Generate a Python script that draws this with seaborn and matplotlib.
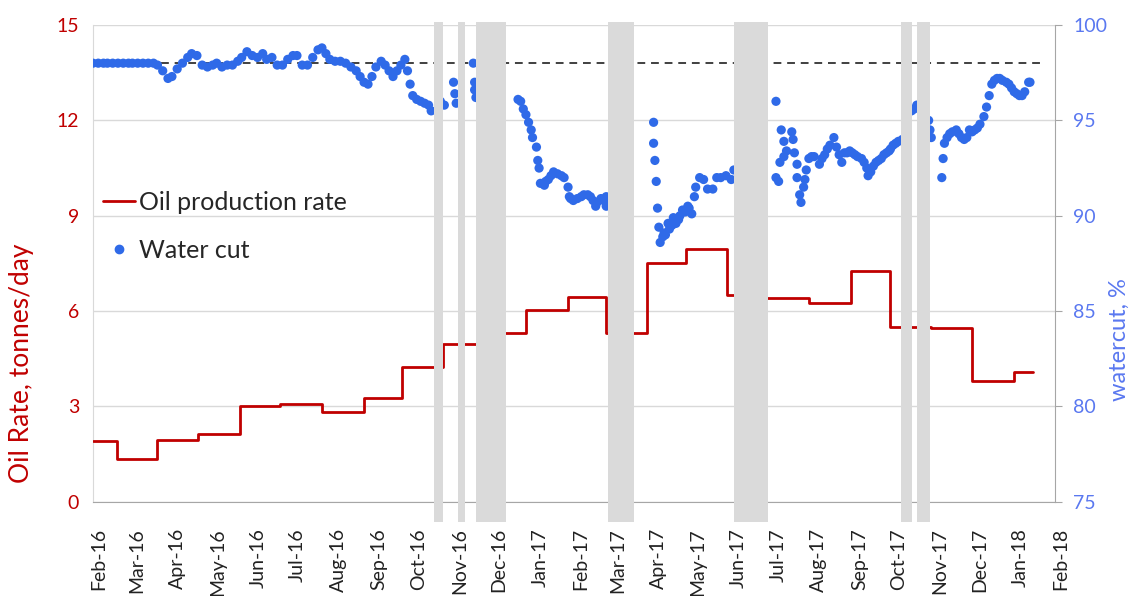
import pandas as pd
import numpy as np
import matplotlib
matplotlib.use("Agg")
import matplotlib.pyplot as plt
import matplotlib.dates as mdates
import matplotlib.transforms as mtransforms
from matplotlib.lines import Line2D
import seaborn as sns

# oil rate, monthly steps (date the rate starts, tonnes/day)
oil_dates = ["2016-02-01", "2016-02-19", "2016-03-21", "2016-04-21", "2016-05-23",
             "2016-06-22", "2016-07-24", "2016-08-25", "2016-09-23", "2016-10-24",
             "2016-11-28", "2016-12-26", "2017-01-27", "2017-02-25", "2017-03-28",
             "2017-04-27", "2017-05-28", "2017-06-15", "2017-07-29", "2017-08-30",
             "2017-09-29", "2017-10-30", "2017-11-30", "2018-01-01"]
oil_rate = [1.9, 1.35, 1.95, 2.14, 3.02, 3.08, 2.83, 3.27, 4.24, 4.97,
            5.31, 6.04, 6.45, 5.31, 7.5, 7.96, 6.5, 6.42, 6.27, 7.27,
            5.5, 5.46, 3.8, 4.09]
oil_end = "2018-01-15"

# water cut, days since start of record
wc_start = "2016-02-01"
wc_day = [0, 4, 8, 11, 15, 19, 23, 27, 30, 34, 38, 42, 46, 49, 53, 57, 60, 64, 68, 72,
          75, 79, 83, 87, 91, 94, 98, 102, 106, 110, 113, 117, 121, 125, 129, 132, 136, 140,
          144, 148, 152, 155, 159, 163, 167, 171, 174, 177, 180, 184, 188, 192, 196, 200,
          203, 206, 209, 212, 215, 219, 222, 225, 228, 231, 234, 237, 239, 241, 243, 246,
          249, 252, 255, 257,
          264, 267, 274, 275, 276,
          289, 290, 290, 291,
          323, 325, 327, 329, 331, 333, 334, 337, 338, 339, 340, 343, 344, 346, 348, 350,
          353, 356, 358, 361, 362, 363, 365, 368, 371, 373, 376, 378, 380, 382, 383, 386,
          388, 390, 390,
          426, 426, 427, 428, 429, 430, 431, 433, 434, 435, 437, 438, 440, 441, 443, 445,
          446, 448, 450, 452, 453, 455, 457, 458, 461, 464, 467, 471, 474, 477, 481, 485, 487,
          519, 519, 521, 522, 523, 525, 525, 527, 531, 532, 533, 535, 535, 537, 538, 540,
          541, 542, 544, 546, 548, 552, 554, 556, 558, 560, 563, 565, 567, 569, 571, 573,
          575, 577, 579, 581, 584, 586, 588, 589, 591, 593, 595, 597, 599, 601, 603, 605,
          606, 608, 610, 612, 615,
          622, 624, 626,
          635, 636, 637, 645, 646, 647, 649, 651, 653, 656, 658, 660, 662, 664, 666, 668,
          670, 672, 674, 677, 679, 681, 683, 685, 687, 689, 691, 694, 696, 698, 700, 702,
          704, 706, 708, 711, 712]
wc_value = [98.0, 98.0, 98.0, 98.0, 98.0, 98.0, 98.0, 98.0, 98.0, 98.0, 98.0, 98.0, 98.0,
            97.9, 97.6, 97.2, 97.3, 97.7, 98.0, 98.3,
            98.5, 98.4, 97.9, 97.8, 97.9, 98.0, 97.8, 97.9, 97.9, 98.1, 98.3, 98.6, 98.4,
            98.3, 98.5, 98.2, 98.3, 97.9,
            97.9, 98.2, 98.4, 98.4, 97.9, 97.9, 98.3, 98.7, 98.8, 98.5, 98.2, 98.1, 98.1,
            98.0, 97.8, 97.6,
            97.3, 97.0, 96.9, 97.3, 97.8, 98.1, 97.9, 97.6, 97.3, 97.6, 97.9, 98.2, 97.6,
            96.9, 96.3, 96.1,
            96.0, 95.9, 95.8, 95.5,
            96.0, 95.8, 97.0, 96.4, 95.9,
            98.0, 97.0, 96.6, 96.2,
            96.1, 96.0, 95.6, 95.3, 94.9, 94.5, 94.1, 93.6, 92.9, 92.5, 91.7, 91.6, 91.8,
            91.9, 92.1, 92.3,
            92.2, 92.1, 92.0, 91.5, 91.0, 90.9, 90.8, 90.9, 91.0, 91.1, 91.1, 91.0, 90.8,
            90.5, 90.7, 90.9,
            90.8, 91.0, 90.5,
            94.9, 93.8, 92.9, 91.8, 90.4, 89.4, 88.6, 88.9, 89.1, 89.0, 89.6, 89.3, 89.5,
            89.9, 89.6, 89.8,
            90.0, 90.3, 90.2, 90.5, 90.4, 90.1, 91.0, 91.5, 92.0, 91.9, 91.4, 91.4, 92.0,
            92.0, 92.1, 91.9, 92.4,
            96.0, 92.0, 91.8, 92.8, 94.5, 93.1, 93.9, 93.4, 94.4, 94.0, 93.3, 92.7, 92.0,
            91.1, 90.7, 91.5,
            91.9, 92.4, 93.0, 93.1, 93.1, 92.7, 93.0, 93.2, 93.5, 93.7, 94.1, 93.6, 93.2,
            92.8, 93.3, 93.3,
            93.4, 93.3, 93.2, 93.1, 93.0, 92.8, 92.5, 92.1, 92.3, 92.6, 92.8, 92.9, 93.0,
            93.2, 93.3, 93.4,
            93.5, 93.7, 93.8, 93.9, 94.0,
            95.5, 95.6, 95.8,
            95.0, 94.5, 94.1, 92.0, 93.0, 93.8, 94.1, 94.3, 94.4, 94.5, 94.3, 94.1, 94.0,
            94.1, 94.5, 94.4,
            94.5, 94.6, 94.8, 95.2, 95.7, 96.3, 96.9, 97.1, 97.2, 97.2, 97.1, 97.0, 96.9,
            96.7, 96.5, 96.4,
            96.3, 96.3, 96.5, 97.0, 97.0]
wc_target = 98.0

# shut-in periods (grey bands)
shutin_start = ["2016-10-17", "2016-11-04", "2016-11-18", "2017-02-26", "2017-06-02",
                "2017-10-07", "2017-10-19"]
shutin_end = ["2016-10-24", "2016-11-10", "2016-12-11", "2017-03-18", "2017-06-28",
              "2017-10-15", "2017-10-29"]

red = "#c00000"
blue = "#2f6ae8"
blue_txt = "#5a78f0"

sns.set_style("white")
plt.rcParams["font.family"] = ["Lato", "DejaVu Sans"]

oil = pd.DataFrame({"date": pd.to_datetime(oil_dates + [oil_end]),
                    "rate": oil_rate + [oil_rate[-1]]})
wc = pd.DataFrame({"date": pd.Timestamp(wc_start) + pd.to_timedelta(wc_day, unit="D"),
                   "watercut": wc_value})

fig = plt.figure(figsize=(11.42, 5.96), dpi=100)
ax = fig.add_axes([0.0814, 0.158, 0.8424, 0.800])
ax2 = ax.twinx()

sns.lineplot(data=oil, x="date", y="rate", ax=ax, color=red, lw=2.0,
             drawstyle="steps-post", estimator=None, sort=False, zorder=3)
sns.scatterplot(data=wc, x="date", y="watercut", ax=ax2, color=blue, s=44,
                edgecolor="none", zorder=3)
ax2.axhline(wc_target, xmax=0.99, ls=(0, (4, 3)), color="#404040", lw=1.4, zorder=2)

for s, e in zip(shutin_start, shutin_end):
    band = ax2.axvspan(pd.Timestamp(s), pd.Timestamp(e), ymin=-0.042, ymax=1.006,
                       facecolor="#dadada", edgecolor="none", zorder=5)
    band.set_clip_on(False)

ax.set_xlim(pd.Timestamp("2016-02-01"), pd.Timestamp("2018-02-01"))
ax.set_ylim(0, 15)
ax2.set_ylim(75, 100)
ax.set_yticks(np.arange(0, 16, 3))
ax2.set_yticks(np.arange(75, 101, 5))
ax.yaxis.grid(True, color="#d9d9d9", lw=1)
ax.set_axisbelow(True)

ax.xaxis.set_major_locator(mdates.MonthLocator())
ax.xaxis.set_major_formatter(mdates.DateFormatter("%b-%y"))
ax.tick_params(axis="x", direction="inout", length=6, color="#a6a6a6", width=1,
               labelsize=14, labelcolor="#222222", pad=16)
for lab in ax.get_xticklabels():
    lab.set_rotation(90)
    lab.set_ha("center")
    lab.set_transform(lab.get_transform() +
                      mtransforms.ScaledTranslation(0.06, 0, fig.dpi_scale_trans))

ax.tick_params(axis="y", length=0, labelsize=14, labelcolor=red, pad=10)
ax2.tick_params(axis="y", length=5, color="#a6a6a6", labelsize=14, labelcolor=blue_txt,
                pad=8)

ax.spines["top"].set_visible(False)
ax2.spines["top"].set_visible(False)
ax.spines["left"].set_color("#d9d9d9")
ax.spines["bottom"].set_color("#a6a6a6")
ax2.spines["left"].set_visible(False)
ax2.spines["bottom"].set_visible(False)
ax2.spines["right"].set_color("#a6a6a6")
ax.spines["right"].set_visible(False)

ax.set_xlabel("")
ax.set_ylabel("Oil Rate, tonnes/day", color=red, fontsize=19)
ax.yaxis.set_label_coords(-0.061, 0.29)
ax2.set_ylabel("watercut, %", color=blue_txt, fontsize=17)
ax2.yaxis.set_label_coords(1.056, 0.34)

handles = [Line2D([], [], color=red, lw=2.0),
           Line2D([], [], color=blue, marker="o", ls="none", markersize=6)]
ax2.legend(handles, ["Oil production rate", "Water cut"], loc="upper left",
           bbox_to_anchor=(-0.013, 0.70), frameon=False, fontsize=18,
           handlelength=1.3, handletextpad=0.15, labelspacing=1.0)

fig.savefig("out.png", dpi=100)
